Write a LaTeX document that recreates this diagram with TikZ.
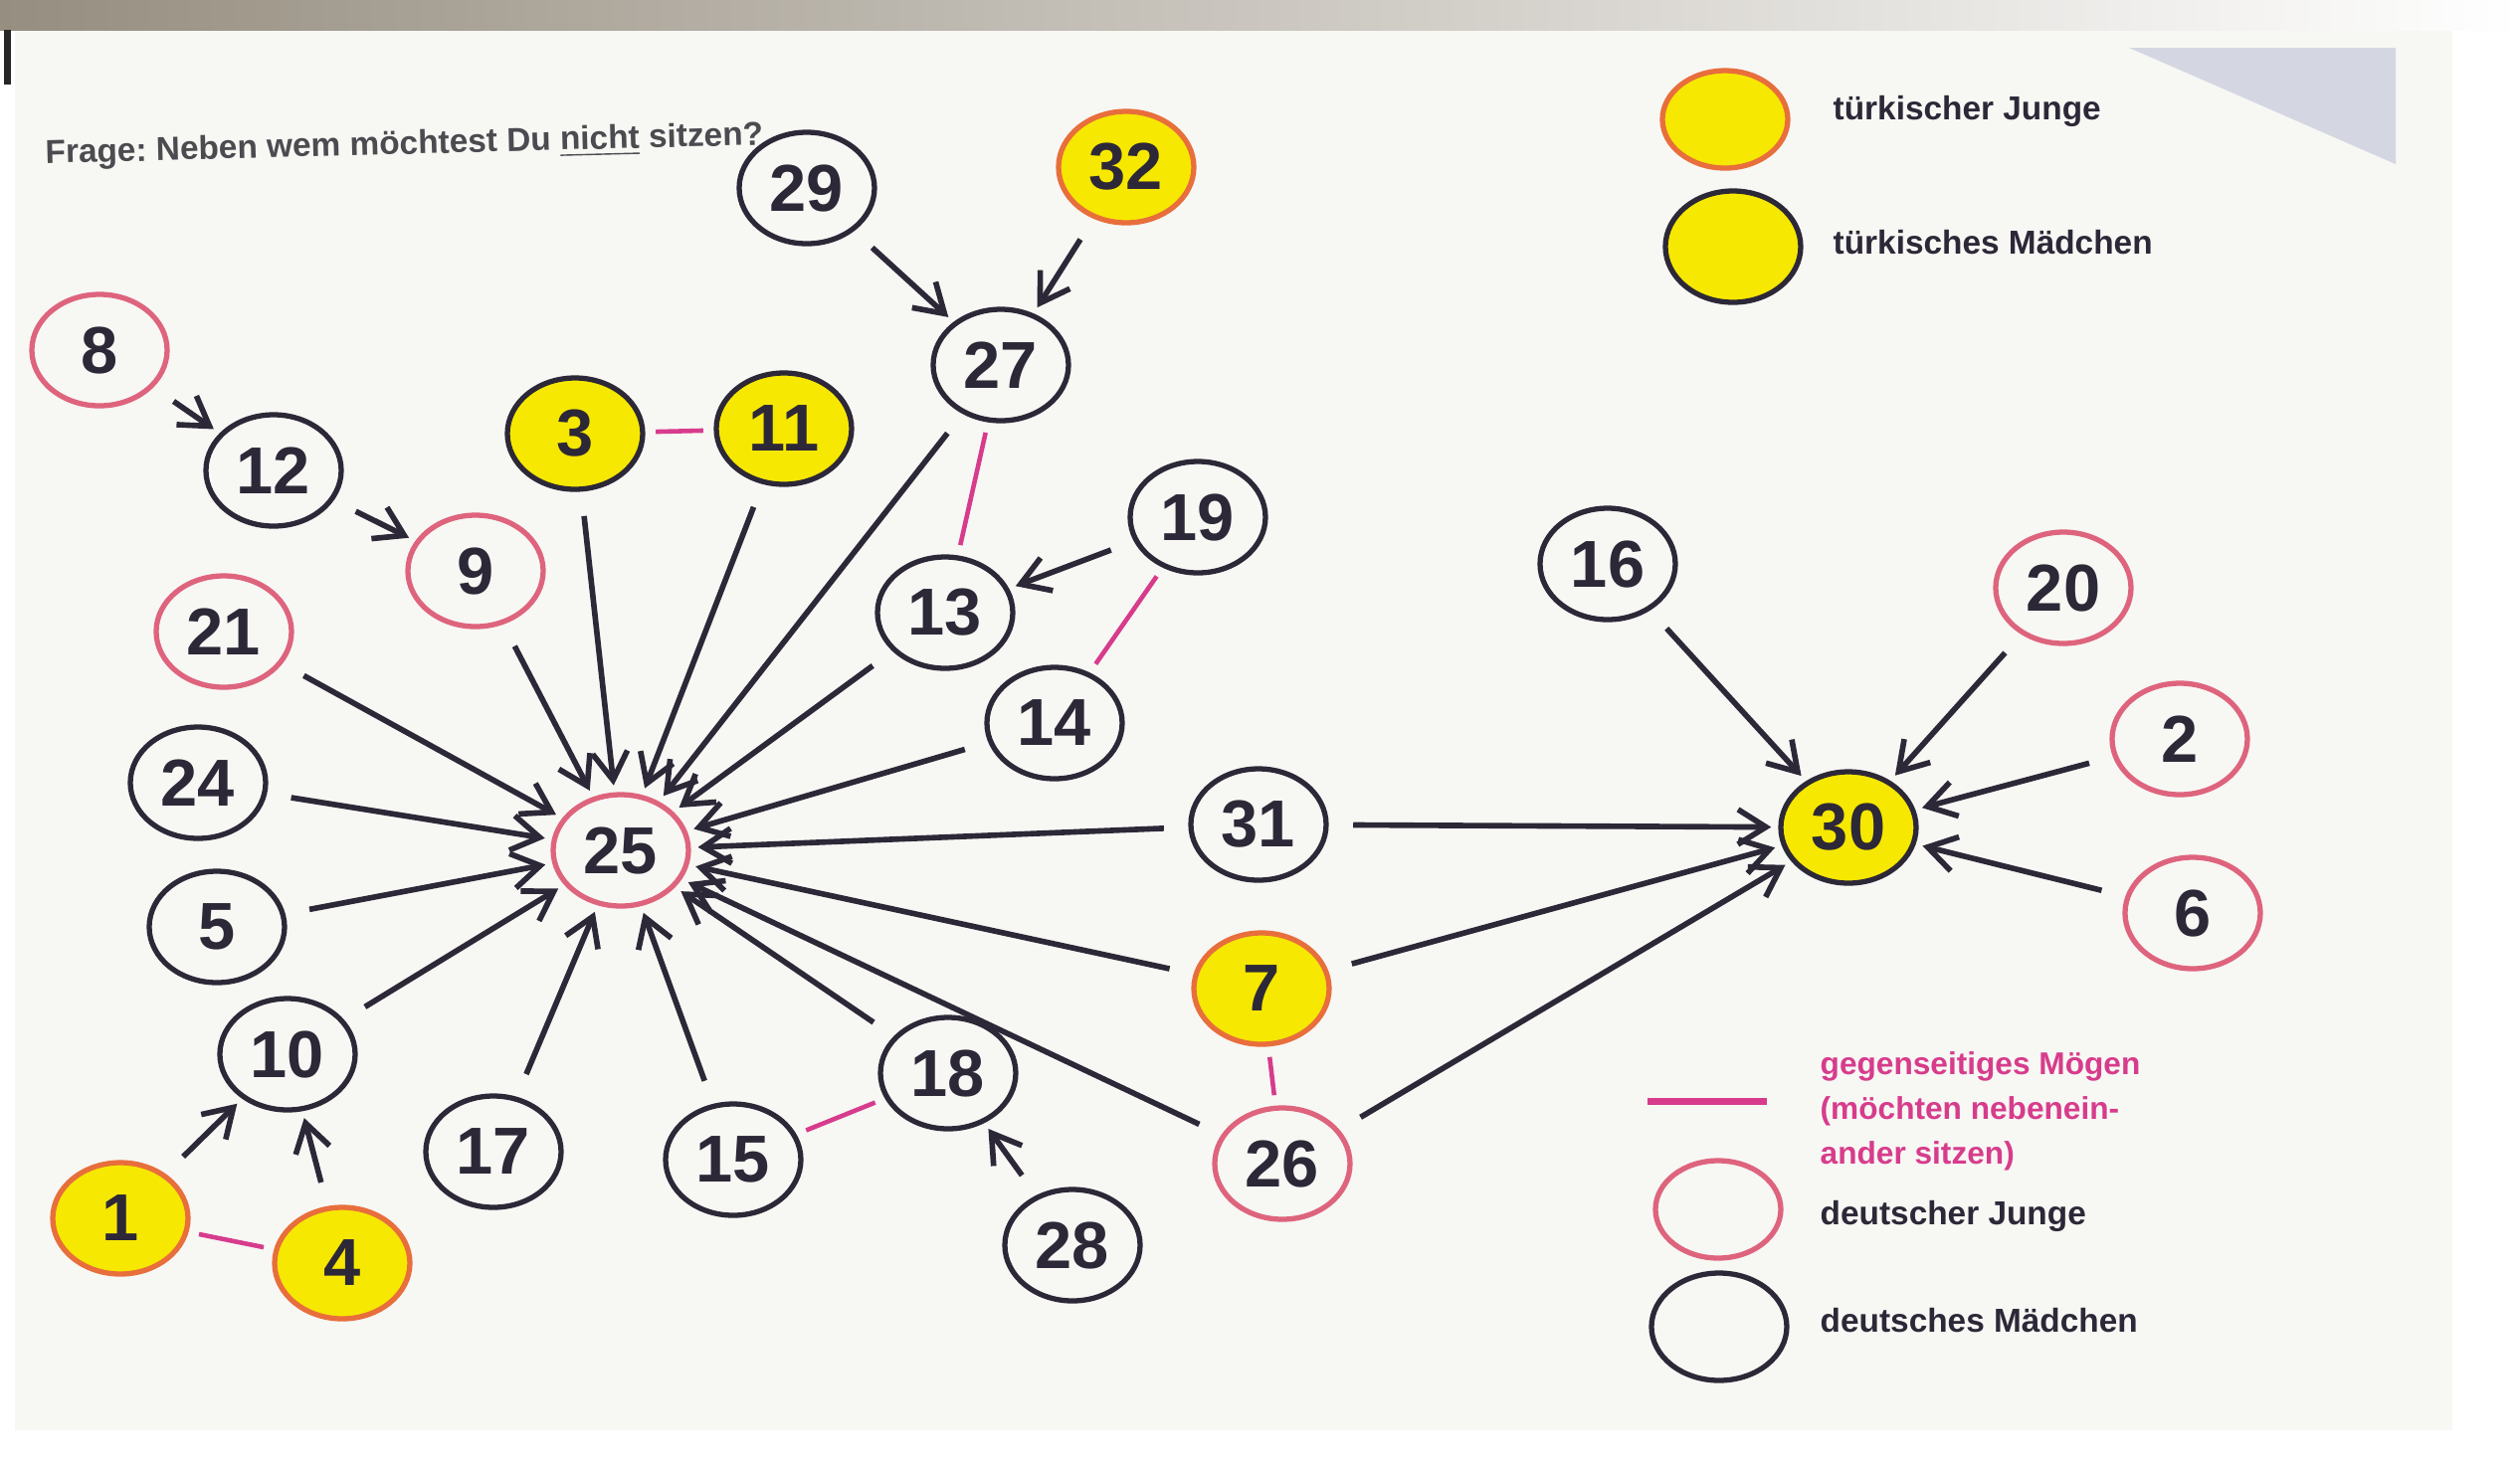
\documentclass[tikz,border=0pt]{standalone}
\usepackage{fontspec}
\setmainfont{Liberation Sans}
\usepackage{tikz}
\usetikzlibrary{shapes.geometric,arrows.meta}
\usetikzlibrary{positioning,calc}
\frenchspacing

\definecolor{papier}{RGB}{247,247,244}
\definecolor{tinte}{RGB}{45,40,55}
\definecolor{rosa}{RGB}{222,100,125}
\definecolor{pink}{RGB}{215,60,140}
\definecolor{gelb}{RGB}{246,232,0}
\definecolor{orangerot}{RGB}{232,110,60}
\definecolor{grau}{RGB}{75,75,80}
\definecolor{ecke}{RGB}{212,215,226}

\begin{document}
\begin{tikzpicture}[every node/.style={inner sep=0pt},
        kreis/.style={ellipse,minimum width=1.36cm,minimum height=1.12cm,line width=1.5pt,text=tinte,
                      font=\fontsize{19}{19}\selectfont\bfseries},
        tj/.style={kreis,draw=orangerot,fill=gelb},
        tm/.style={kreis,draw=tinte,fill=gelb},
        dj/.style={kreis,draw=rosa},
        dm/.style={kreis,draw=tinte},
        pfeil/.style={draw=tinte,line width=1.6pt,-{Straight Barb[length=8pt,width=10pt]},
                      shorten <=7pt,shorten >=2pt},
        gegen/.style={draw=pink,line width=1.3pt,shorten <=3pt,shorten >=3pt},
        legende/.style={anchor=west,text=tinte,font=\fontsize{9.5}{11}\selectfont\bfseries}]
   % Blatt
   \useasboundingbox (0,0) rectangle (25.33,-14.65);
   \fill[white] (0,0) rectangle (25.33,-14.65);
   \fill[papier] (0.15,-0.3) rectangle (24.65,-14.38);
   \shade[left color={rgb,255:red,150;green,142;blue,128},right color=white] (0,0) rectangle (25.33,-0.3);
   \fill[black!85] (0.04,-0.3) rectangle (0.11,-0.85);
   \fill[ecke] (21.4,-0.48) -- (24.08,-0.48) -- (24.08,-1.65) -- cycle;

   \node (frage) [anchor=west,rotate=1.5,text=grau,font=\fontsize{9.5}{11}\selectfont\bfseries]
      at (0.45,-1.56) {Frage: Neben wem möchtest Du \underline{nicht} sitzen?};

   % Schueler
   \node (S29) [dm] at (8.11,-1.89) {29};
   \node (S32) [tj] at (11.32,-1.68) {32};
   \node (S27) [dm] at (10.06,-3.67) {27};
   \node (S8)  [dj] at (1.00,-3.52) {8};
   \node (S12) [dm] at (2.75,-4.73) {12};
   \node (S3)  [tm] at (5.78,-4.36) {3};
   \node (S11) [tm] at (7.88,-4.31) {11};
   \node (S9)  [dj] at (4.78,-5.74) {9};
   \node (S19) [dm] at (12.04,-5.20) {19};
   \node (S13) [dm] at (9.50,-6.16) {13};
   \node (S21) [dj] at (2.25,-6.35) {21};
   \node (S16) [dm] at (16.16,-5.67) {16};
   \node (S20) [dj] at (20.74,-5.91) {20};
   \node (S14) [dm] at (10.60,-7.27) {14};
   \node (S24) [dm] at (1.99,-7.87) {24};
   \node (S25) [dj] at (6.24,-8.55) {25};
   \node (S31) [dm] at (12.65,-8.29) {31};
   \node (S30) [tm] at (18.58,-8.32) {30};
   \node (S2)  [dj] at (21.91,-7.43) {2};
   \node (S6)  [dj] at (22.04,-9.18) {6};
   \node (S5)  [dm] at (2.18,-9.32) {5};
   \node (S7)  [tj] at (12.68,-9.94) {7};
   \node (S10) [dm] at (2.89,-10.60) {10};
   \node (S18) [dm] at (9.53,-10.79) {18};
   \node (S17) [dm] at (4.96,-11.58) {17};
   \node (S15) [dm] at (7.37,-11.66) {15};
   \node (S26) [dj] at (12.89,-11.70) {26};
   \node (S28) [dm] at (10.78,-12.52) {28};
   \node (S1)  [tj] at (1.21,-12.25) {1};
   \node (S4)  [tj] at (3.44,-12.70) {4};

   % nicht nebeneinander sitzen
   \draw[pfeil] (S21) -- (S25);
   \draw[pfeil] (S24) -- (S25);
   \draw[pfeil] (S5) -- (S25);
   \draw[pfeil] (S10) -- (S25);
   \draw[pfeil] (S17) -- (S25);
   \draw[pfeil] (S15) -- (S25);
   \draw[pfeil] (S18) -- (S25);
   \draw[pfeil] (S26) -- (S25);
   \draw[pfeil] (S7) -- (S25);
   \draw[pfeil] (S31) -- (S25);
   \draw[pfeil] (S14) -- (S25);
   \draw[pfeil] (S13) -- (S25);
   \draw[pfeil] (S27) -- (S25);
   \draw[pfeil] (S11) -- (S25);
   \draw[pfeil] (S3) -- (S25);
   \draw[pfeil] (S9) -- (S25);

   \draw[pfeil] (S16) -- (S30);
   \draw[pfeil] (S20) -- (S30);
   \draw[pfeil] (S2) -- (S30);
   \draw[pfeil] (S6) -- (S30);
   \draw[pfeil] (S31) -- (S30);
   \draw[pfeil] (S7) -- (S30);
   \draw[pfeil] (S26) -- (S30);

   \draw[pfeil] (S8) -- (S12);
   \draw[pfeil] (S12) -- (S9);
   \draw[pfeil] (S29) -- (S27);
   \draw[pfeil] (S32) -- (S27);
   \draw[pfeil] (S19) -- (S13);
   \draw[pfeil] (S28) -- (S18);
   \draw[pfeil] (S1) -- (S10);
   \draw[pfeil] (S4) -- (S10);

   % gegenseitig
   \draw[gegen] (S3) -- (S11);
   \draw[gegen] (S27) -- (S13);
   \draw[gegen] (S19) -- (S14);
   \draw[gegen] (S15) -- (S18);
   \draw[gegen] (S7) -- (S26);
   \draw[gegen] (S1) -- (S4);

   % Legende
   \node (L1) [tj,minimum width=1.26cm,minimum height=0.98cm] at (17.34,-1.20) {};
   \node (T1) [legende] at (18.42,-1.12) {türkischer Junge};
   \node (L2) [tm,minimum width=1.36cm,minimum height=1.12cm] at (17.42,-2.48) {};
   \node (T2) [legende] at (18.42,-2.44) {türkisches Mädchen};
   \coordinate (LA) at (16.56,-11.07);
   \coordinate (LB) at (17.76,-11.07);
   \draw[gegen,line width=2pt,shorten <=0pt,shorten >=0pt] (LA) -- (LB);
   \node (T3) [legende,text=pink,font=\fontsize{9}{12.8}\selectfont\bfseries,align=left,anchor=north west]
      at (18.29,-10.57) {gegenseitiges Mögen\\(möchten nebenein-\\ander sitzen)};
   \node (L3) [dj,minimum width=1.26cm,minimum height=0.98cm] at (17.27,-12.16) {};
   \node (T4) [legende] at (18.29,-12.23) {deutscher Junge};
   \node (L4) [dm,minimum width=1.36cm,minimum height=1.08cm] at (17.28,-13.34) {};
   \node (T5) [legende] at (18.29,-13.28) {deutsches Mädchen};

\end{tikzpicture}
\end{document}
